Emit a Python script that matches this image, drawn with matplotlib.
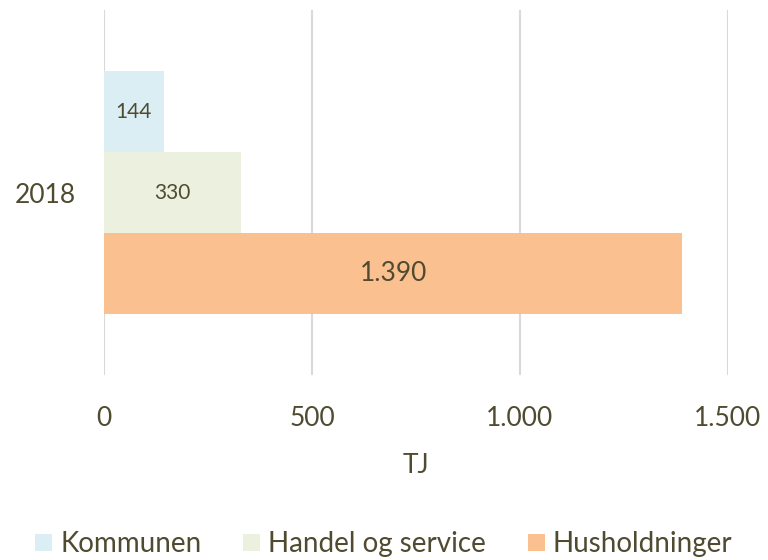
import matplotlib.pyplot as plt

# data
years = ['2018']
series = ['Kommunen', 'Handel og service', 'Husholdninger']
values = [144, 330, 1390]
labels = ['144', '330', '1.390']
colors = ['#DAEEF3', '#EBF1DE', '#FAC090']
label_sizes = [15, 15, 19]
xticks = [0, 500, 1000, 1500]
xtick_labels = ['0', '500', '1.000', '1.500']

txt = '#4F4A30'
plt.rcParams['font.family'] = ['Lato', 'DejaVu Sans']

fig = plt.figure(figsize=(7.68, 5.6), dpi=100)
ax = fig.add_axes([0.1354, 0.330, 0.8125, 0.652])

h = 0.222
offsets = [-h, 0, h]
for i, (name, v) in enumerate(zip(series, values)):
    y = 0 + offsets[i]
    ax.barh(y, v, height=h, color=colors[i], label=name, zorder=2)
    ax.text(v / 2, y, labels[i], ha='center', va='center',
            fontsize=label_sizes[i], color=txt, zorder=3)

ax.set_ylim(0.5, -0.5)
ax.set_xlim(0, 1500)
ax.set_yticks([0])
ax.set_yticklabels(years, fontsize=19, color=txt)
ax.set_xticks(xticks)
ax.set_xticklabels(xtick_labels, fontsize=19, color=txt)
ax.tick_params(length=0)
ax.tick_params(axis='x', pad=22)
ax.tick_params(axis='y', pad=20)
ax.grid(axis='x', color='#D9D9D9', linewidth=1.5, zorder=0)
for s in ax.spines.values():
    s.set_visible(False)
ax.set_xlabel('TJ', fontsize=19, color=txt, labelpad=16)

handles, lbls = ax.get_legend_handles_labels()
leg = fig.legend(handles, lbls, loc='lower center', ncol=3, frameon=False,
                 fontsize=20, bbox_to_anchor=(0.5, -0.04),
                 handlelength=0.6, handleheight=0.6, handletextpad=0.3,
                 columnspacing=1.5)
for t in leg.get_texts():
    t.set_color(txt)

fig.savefig('out.png', dpi=100)
